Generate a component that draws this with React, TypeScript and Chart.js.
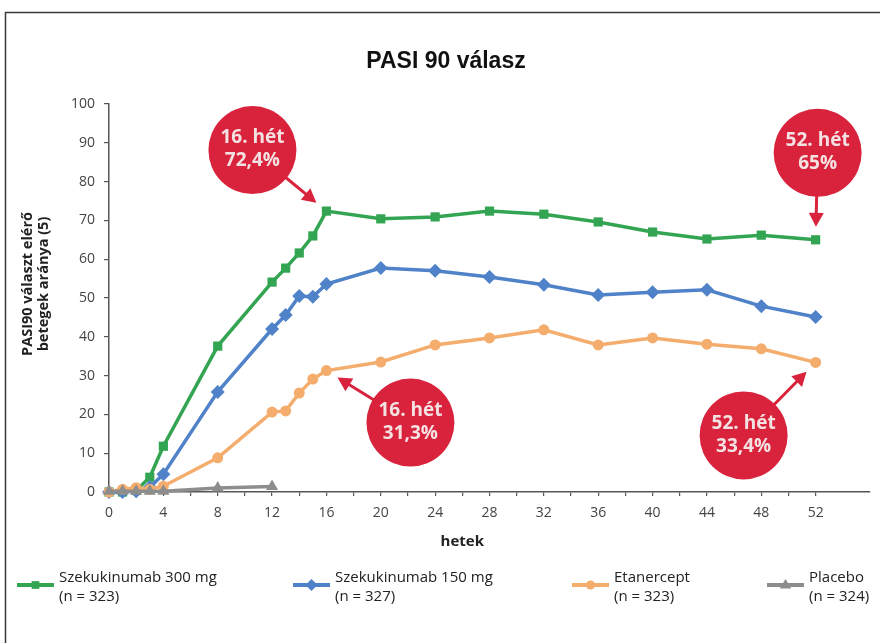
import React, { useEffect, useRef } from 'react';
import { Chart, registerables } from 'chart.js';

Chart.register(...registerables);

// ---- data ----
const TITLE = 'PASI 90 válasz';
const Y_TITLE = ['PASI90 választ elérő', 'betegek aránya (5)'];
const X_TITLE = 'hetek';

const weeks = [0, 1, 2, 3, 4, 8, 12, 13, 14, 15, 16, 20, 24, 28, 32, 36, 40, 44, 48, 52];
const secukinumab300 = [0, 0, 0.4, 3.8, 11.8, 37.6, 54.1, 57.7, 61.6, 66.0, 72.4, 70.4, 70.9, 72.4, 71.6, 69.6, 67.0, 65.2, 66.2, 65.0];
const secukinumab150 = [0, 0, 0.2, 1.2, 4.6, 25.8, 42.0, 45.6, 50.5, 50.3, 53.6, 57.7, 57.0, 55.4, 53.4, 50.8, 51.5, 52.1, 47.9, 45.1];
const etanercept = [0, 0.7, 1.1, 0.7, 1.5, 8.8, 20.6, 20.9, 25.5, 29.1, 31.3, 33.5, 37.9, 39.7, 41.8, 37.9, 39.7, 38.1, 36.9, 33.4];
const placeboWeeks = [0, 1, 2, 3, 4, 8, 12];
const placebo = [0.2, 0.2, 0.2, 0.2, 0.2, 1.0, 1.4];

const seriesNames = ['Szekukinumab 300 mg', 'Szekukinumab 150 mg', 'Etanercept', 'Placebo'];
const seriesN = ['(n = 323)', '(n = 327)', '(n = 323)', '(n = 324)'];

const xTickValues = [0, 2, 4, 6, 8, 10, 12, 14, 16, 18, 20, 22, 24, 26, 28, 30, 32, 34, 36, 38, 40, 42, 44, 46, 48, 50, 52];

// callouts: which dataset / point they point to, text
const calloutText = [
  ['16. hét', '72,4%'],
  ['16. hét', '31,3%'],
  ['52. hét', '65%'],
  ['52. hét', '33,4%'],
];
const calloutTarget = [
  { ds: 0, idx: 10 },
  { ds: 2, idx: 10 },
  { ds: 0, idx: 19 },
  { ds: 2, idx: 19 },
];

// ---- styles ----
const COLORS = ['#33a552', '#4f82c8', '#f4ad6c', '#8d8d8d'];
const STYLES = ['rect', 'rectRot', 'circle', 'triangle'];
const RADII = [6.5, 7, 5.5, 7];
const RED = '#d9223b';
const CALLOUT_OFFSETS = [
  { dx: -74, dy: -61 },
  { dx: 84, dy: 52 },
  { dx: 2, dy: -87 },
  { dx: -72, dy: 73 },
];
const LEGEND_X = [17, 293, 572, 767];

function drawMarker(ctx: CanvasRenderingContext2D, style: string, x: number, y: number, r: number, color: string) {
  ctx.fillStyle = color;
  ctx.beginPath();
  if (style === 'rect') {
    const s = r * Math.SQRT1_2;
    ctx.rect(x - s, y - s, 2 * s, 2 * s);
  } else if (style === 'rectRot') {
    ctx.moveTo(x, y - r);
    ctx.lineTo(x + r, y);
    ctx.lineTo(x, y + r);
    ctx.lineTo(x - r, y);
    ctx.closePath();
  } else if (style === 'circle') {
    ctx.arc(x, y, r, 0, Math.PI * 2);
  } else {
    ctx.moveTo(x, y - r);
    ctx.lineTo(x + r * 0.95, y + r * 0.6);
    ctx.lineTo(x - r * 0.95, y + r * 0.6);
    ctx.closePath();
  }
  ctx.fill();
}

const overlayPlugin = {
  id: 'overlay',
  afterDraw(chart: any) {
    const ctx: CanvasRenderingContext2D = chart.ctx;
    const xs = chart.scales.x;
    ctx.save();

    // frame
    ctx.strokeStyle = '#3a3a3a';
    ctx.lineWidth = 1.5;
    ctx.beginPath();
    ctx.moveTo(5.5, 643);
    ctx.lineTo(5.5, 12.5);
    ctx.lineTo(880, 12.5);
    ctx.stroke();

    // title
    ctx.fillStyle = '#111';
    ctx.font = 'bold 23px "Liberation Sans", Arial, sans-serif';
    ctx.textAlign = 'center';
    ctx.textBaseline = 'middle';
    ctx.fillText(TITLE, 446, 62);

    // y title
    ctx.save();
    ctx.translate(36, 284);
    ctx.rotate(-Math.PI / 2);
    ctx.font = 'bold 14.5px "Open Sans", sans-serif';
    ctx.fillStyle = '#222';
    ctx.fillText(Y_TITLE[0], 0, -8);
    ctx.fillText(Y_TITLE[1], 0, 8);
    ctx.restore();

    // x title
    ctx.font = 'bold 15px "Open Sans", sans-serif';
    ctx.fillStyle = '#222';
    ctx.fillText(X_TITLE, xs.getPixelForValue(26), 542);

    // legend
    ctx.textAlign = 'left';
    ctx.font = '15px "Open Sans", sans-serif';
    for (let i = 0; i < seriesNames.length; i++) {
      const x0 = LEGEND_X[i];
      const y0 = 585;
      ctx.strokeStyle = COLORS[i];
      ctx.lineWidth = 4;
      ctx.beginPath();
      ctx.moveTo(x0, y0);
      ctx.lineTo(x0 + 37, y0);
      ctx.stroke();
      drawMarker(ctx, STYLES[i], x0 + 18.5, y0, RADII[i] - 1, COLORS[i]);
      ctx.fillStyle = '#222';
      ctx.fillText(seriesNames[i], x0 + 42, 578);
      ctx.fillText(seriesN[i], x0 + 42, 597);
    }

    // callouts
    for (let i = 0; i < calloutText.length; i++) {
      const t = calloutTarget[i];
      const el = chart.getDatasetMeta(t.ds).data[t.idx];
      const tx = el.x, ty = el.y;
      const cx = tx + CALLOUT_OFFSETS[i].dx;
      const cy = ty + CALLOUT_OFFSETS[i].dy;
      const r = 44;
      const ddx = tx - cx, ddy = ty - cy;
      const d = Math.hypot(ddx, ddy);
      const ux = ddx / d, uy = ddy / d;
      const tipX = tx - ux * 13, tipY = ty - uy * 13;
      const headLen = 14, headW = 7.5;
      const baseX = tipX - ux * headLen, baseY = tipY - uy * headLen;
      ctx.strokeStyle = RED;
      ctx.fillStyle = RED;
      ctx.lineWidth = 3;
      ctx.beginPath();
      ctx.moveTo(cx + ux * (r - 4), cy + uy * (r - 4));
      ctx.lineTo(baseX + ux * 2, baseY + uy * 2);
      ctx.stroke();
      ctx.beginPath();
      ctx.moveTo(tipX, tipY);
      ctx.lineTo(baseX - uy * headW, baseY + ux * headW);
      ctx.lineTo(baseX + uy * headW, baseY - ux * headW);
      ctx.closePath();
      ctx.fill();
      ctx.beginPath();
      ctx.arc(cx, cy, r, 0, Math.PI * 2);
      ctx.fill();
      ctx.fillStyle = '#f4e2e2';
      ctx.font = 'bold 19px "Open Sans", sans-serif';
      ctx.textAlign = 'center';
      ctx.fillText(calloutText[i][0], cx, cy - 12);
      ctx.fillText(calloutText[i][1], cx, cy + 11);
    }
    ctx.restore();
  },
};

export default function App() {
  const ref = useRef<HTMLCanvasElement>(null);
  useEffect(() => {
    const canvas = ref.current;
    if (!canvas) return;
    const allData = [secukinumab300, secukinumab150, etanercept, placebo];
    const allWeeks = [weeks, weeks, weeks, placeboWeeks];
    const chart = new Chart(canvas, {
      type: 'line',
      data: {
        datasets: allData.map((vals, i) => ({
          label: seriesNames[i],
          data: vals.map((v, j) => ({ x: allWeeks[i][j], y: v })),
          borderColor: COLORS[i],
          backgroundColor: COLORS[i],
          borderWidth: 3.5,
          pointStyle: STYLES[i] as any,
          pointRadius: RADII[i],
          pointBorderWidth: 0,
          tension: 0,
          clip: false,
          order: 3 - i,
        })),
      },
      options: {
        responsive: false,
        devicePixelRatio: 1,
        animation: false,
        layout: { padding: { left: 0, top: 104, right: 10, bottom: 0 } },
        plugins: { legend: { display: false }, title: { display: false }, tooltip: { enabled: false } },
        scales: {
          x: {
            type: 'linear',
            min: 0,
            max: 56,
            afterBuildTicks: (s: any) => {
              s.ticks = xTickValues.map((v) => ({ value: v }));
            },
            afterFit: (s: any) => {
              s.height = 151;
            },
            ticks: {
              autoSkip: false,
              maxRotation: 0,
              padding: 9,
              color: '#444',
              font: { family: '"Open Sans", sans-serif', size: 14 },
              callback: (v: any) => (Number(v) % 4 === 0 ? String(v) : ''),
            },
            grid: { display: true, drawOnChartArea: false, drawTicks: true, tickLength: 4, color: '#555', lineWidth: 1.2 },
            border: { display: true, color: '#555', width: 1.5 },
          },
          y: {
            min: 0,
            max: 100,
            afterFit: (s: any) => {
              s.width = 109;
            },
            ticks: {
              stepSize: 10,
              padding: 9,
              color: '#444',
              font: { family: '"Open Sans", sans-serif', size: 14 },
            },
            grid: { display: true, drawOnChartArea: false, drawTicks: true, tickLength: 5, color: '#555', lineWidth: 1.2 },
            border: { display: true, color: '#555', width: 1.5 },
          },
        },
      },
      plugins: [overlayPlugin],
    });
    return () => chart.destroy();
  }, []);
  return (
    <div style={{ position: 'fixed', left: 0, top: 0, width: 880, height: 643, background: '#fff' }}>
      <canvas ref={ref} width={880} height={643} style={{ width: 880, height: 643, display: 'block' }} />
    </div>
  );
}
